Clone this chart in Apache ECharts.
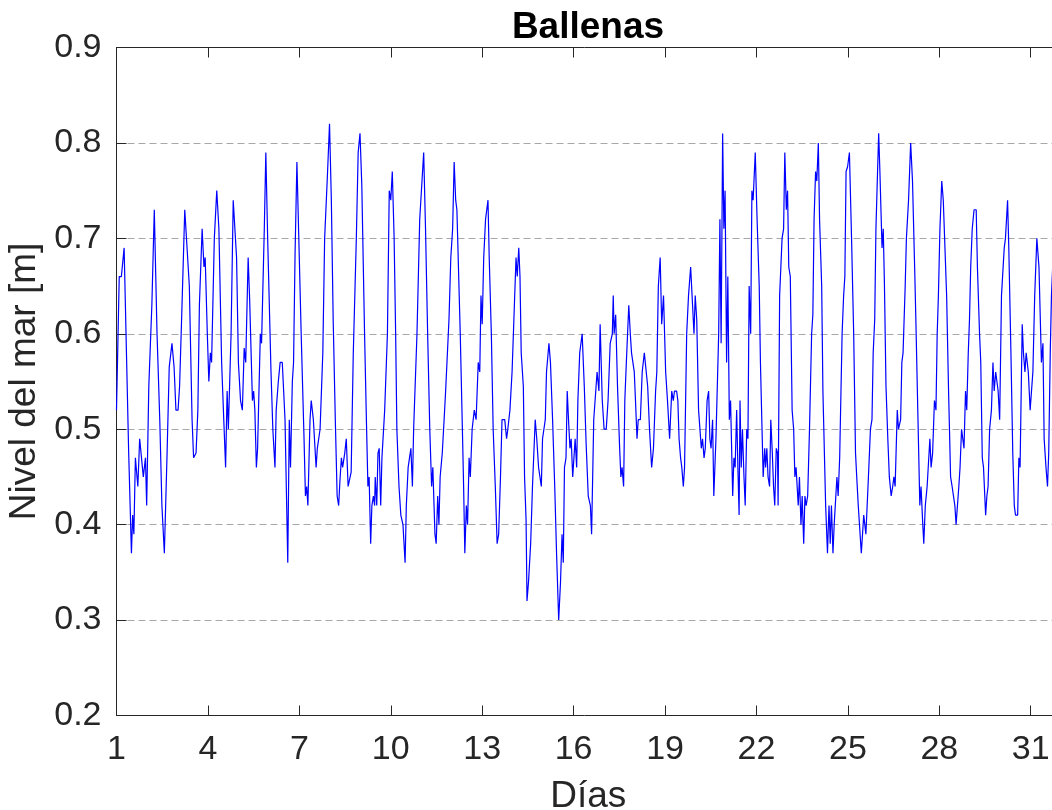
<!DOCTYPE html>
<html><head><meta charset="utf-8">
<script src="https://cdn.jsdelivr.net/npm/echarts@6/dist/echarts.min.js"></script>
<style>html,body{margin:0;padding:0;background:#fff;overflow:hidden}#c{width:1052px;height:810px}</style>
</head><body><div id="c"></div>
<script>
const titleText = 'Ballenas';
const xName = 'Días';
const yName = 'Nivel del mar [m]';
const xTicks = [1, 4, 7, 10, 13, 16, 19, 22, 25, 28, 31];
const yTicks = [0.2, 0.3, 0.4, 0.5, 0.6, 0.7, 0.8, 0.9];

const days = [
1.00,1.09,1.16,1.25,1.40,1.49,1.53,1.57,1.62,1.70,1.76,1.81,1.88,1.95,1.99,2.06,2.16,2.24,2.33,2.42,2.49,2.57,2.66,2.73,2.82,2.89,2.95,3.02,3.07,3.15,3.24,3.30,3.39,3.48,3.53,3.61,3.67,3.72,3.81,3.87,3.91,3.98,4.03,
4.08,4.12,4.21,4.29,4.36,4.45,4.52,4.58,4.63,4.67,4.76,4.83,4.94,5.00,5.07,5.13,5.19,5.24,5.32,5.37,5.46,5.50,5.54,5.59,5.63,5.68,5.72,5.76,5.85,5.90,5.96,6.00,6.07,6.13,6.18,6.20,6.24,6.31,6.37,6.44,6.53,6.62,6.67,6.71,6.77,6.81,6.86,6.92,
7.06,7.15,7.20,7.24,7.28,7.35,7.39,7.46,7.55,7.59,7.63,7.68,7.72,7.77,7.83,7.92,7.99,8.05,8.11,8.18,8.24,8.29,8.33,8.38,8.42,8.49,8.54,8.60,8.65,8.70,8.77,8.87,8.93,8.99,9.05,9.14,9.20,9.25,9.29,9.34,9.38,9.43,9.47,9.49,9.54,9.58,9.62,9.67,9.71,9.75,9.80,9.84,9.89,9.95,10.00,10.05,10.11,
10.16,10.20,10.27,10.33,10.40,10.47,10.51,10.57,10.62,10.66,10.71,10.75,10.79,10.86,10.95,11.08,11.14,11.21,11.28,11.34,11.38,11.45,11.49,11.54,11.58,11.62,11.69,11.75,11.80,11.84,11.91,11.97,12.03,12.08,12.13,12.17,12.23,12.28,12.35,12.39,12.43,12.48,12.52,12.57,12.61,12.67,12.74,12.80,12.87,12.92,12.96,13.00,13.05,13.11,13.19,
13.23,13.30,13.36,13.43,13.49,13.54,13.60,13.65,13.74,13.80,13.84,13.91,13.98,14.04,14.11,14.15,14.20,14.24,14.28,14.35,14.39,14.44,14.47,14.52,14.59,14.65,14.74,14.79,14.85,14.89,14.94,14.98,15.03,15.07,15.11,15.19,15.24,15.31,15.38,15.44,15.51,15.57,15.62,15.66,15.70,15.75,15.79,15.84,15.88,15.92,15.97,16.01,16.05,16.10,16.14,
16.20,16.28,16.35,16.41,16.48,16.55,16.59,16.66,16.71,16.77,16.83,16.87,16.94,17.00,17.07,17.13,17.20,17.27,17.30,17.33,17.38,17.44,17.51,17.55,17.59,17.64,17.68,17.73,17.77,17.81,17.86,17.90,17.95,17.99,18.03,18.08,18.12,18.19,18.25,18.32,18.38,18.43,18.49,18.56,18.62,18.69,18.73,18.78,18.84,18.89,18.95,19.02,19.08,19.15,
19.22,19.27,19.31,19.38,19.42,19.46,19.51,19.55,19.60,19.64,19.71,19.77,19.84,19.88,19.95,19.99,20.04,20.10,20.14,20.19,20.23,20.28,20.32,20.38,20.43,20.47,20.51,20.56,20.60,20.67,20.76,20.80,20.84,20.89,20.93,20.97,21.02,21.06,21.11,21.15,21.22,21.26,21.30,21.35,21.39,21.43,21.46,21.50,21.54,21.59,21.63,21.68,21.72,21.76,21.81,21.85,21.89,21.96,22.02,22.09,22.13,22.18,22.22,22.27,
22.30,22.34,22.38,22.43,22.47,22.52,22.56,22.60,22.65,22.69,22.71,22.76,22.80,22.84,22.89,22.93,22.98,23.02,23.06,23.11,23.17,23.22,23.26,23.30,23.37,23.41,23.46,23.50,23.55,23.59,23.63,23.68,23.74,23.81,23.85,23.89,23.94,23.98,24.03,24.07,24.14,24.18,24.22,24.27,24.33,24.38,24.42,24.46,24.51,24.55,24.60,24.64,24.68,24.73,24.77,24.81,24.86,24.90,24.94,24.99,25.05,25.12,25.19,25.25,25.29,25.34,
25.39,25.44,25.48,25.52,25.57,25.59,25.66,25.70,25.74,25.79,25.83,25.88,25.92,25.96,26.01,26.05,26.12,26.16,26.20,26.25,26.31,26.36,26.42,26.47,26.51,26.55,26.62,26.66,26.73,26.77,26.81,26.88,26.92,26.99,27.06,27.12,27.19,27.23,27.30,27.36,27.40,27.45,27.49,27.54,27.60,27.65,27.69,27.73,27.78,27.84,27.89,27.93,27.97,28.02,28.08,28.13,28.19,28.24,28.30,28.37,
28.42,28.46,28.51,28.55,28.60,28.64,28.68,28.73,28.77,28.81,28.86,28.90,28.95,28.99,29.03,29.08,29.14,29.21,29.25,29.32,29.36,29.41,29.45,29.52,29.56,29.60,29.65,29.71,29.76,29.80,29.85,29.89,29.93,29.98,30.04,30.08,30.13,30.17,30.24,30.28,30.35,30.41,30.46,30.50,30.57,30.61,30.65,30.72,30.76,30.81,30.85,30.92,30.98,31.03,31.07,31.13,31.20,31.27,31.31,31.35,31.40,31.44,31.50,31.55,31.59,31.64,31.68,31.72
];

const level = [
0.52,0.66,0.66,0.69,0.475,0.37,0.41,0.39,0.47,0.44,0.49,0.49,0.45,0.47,0.42,0.545,0.63,0.73,0.60,0.51,0.42,0.37,0.475,0.565,0.59,0.565,0.52,0.52,0.545,0.63,0.73,0.73,0.65,0.51,0.47,0.475,0.52,0.63,0.71,0.67,0.68,0.60,0.55,
0.58,0.57,0.70,0.75,0.71,0.57,0.51,0.46,0.54,0.50,0.60,0.74,0.68,0.57,0.53,0.52,0.585,0.57,0.68,0.635,0.53,0.54,0.52,0.46,0.48,0.48,0.60,0.59,0.71,0.79,0.70,0.70,0.56,0.50,0.50,0.46,0.52,0.55,0.57,0.57,0.51,0.36,0.51,0.46,0.55,0.57,0.685,0.78,
0.60,0.495,0.43,0.44,0.42,0.51,0.53,0.51,0.46,0.48,0.48,0.50,0.50,0.58,0.70,0.765,0.82,0.74,0.615,0.51,0.43,0.42,0.445,0.47,0.46,0.475,0.49,0.44,0.44,0.455,0.58,0.70,0.79,0.81,0.755,0.60,0.51,0.44,0.45,0.38,0.42,0.43,0.42,0.45,0.42,0.475,0.48,0.42,0.47,0.47,0.52,0.52,0.60,0.75,0.74,0.77,0.70,
0.60,0.50,0.44,0.41,0.40,0.36,0.42,0.46,0.46,0.48,0.44,0.50,0.50,0.60,0.72,0.79,0.71,0.60,0.50,0.44,0.46,0.39,0.38,0.43,0.40,0.45,0.475,0.51,0.54,0.54,0.615,0.68,0.71,0.78,0.74,0.73,0.73,0.60,0.50,0.44,0.37,0.42,0.40,0.47,0.45,0.50,0.52,0.51,0.57,0.56,0.64,0.61,0.68,0.72,0.74,
0.68,0.60,0.50,0.44,0.38,0.39,0.45,0.51,0.51,0.49,0.50,0.52,0.56,0.615,0.68,0.66,0.69,0.66,0.58,0.545,0.45,0.405,0.32,0.34,0.38,0.44,0.51,0.49,0.46,0.46,0.44,0.49,0.49,0.51,0.56,0.59,0.57,0.51,0.44,0.37,0.30,0.34,0.39,0.36,0.46,0.47,0.54,0.505,0.48,0.49,0.45,0.45,0.49,0.46,0.53,
0.58,0.60,0.545,0.485,0.43,0.42,0.39,0.51,0.51,0.56,0.54,0.61,0.53,0.50,0.50,0.53,0.59,0.60,0.64,0.60,0.62,0.545,0.48,0.45,0.46,0.44,0.53,0.57,0.57,0.63,0.60,0.58,0.58,0.56,0.53,0.49,0.51,0.51,0.56,0.58,0.58,0.545,0.50,0.46,0.48,0.54,0.56,0.65,0.68,0.61,0.64,0.56,0.53,0.49,
0.54,0.53,0.54,0.54,0.53,0.49,0.47,0.46,0.44,0.46,0.60,0.64,0.67,0.67,0.60,0.64,0.615,0.52,0.52,0.48,0.49,0.47,0.48,0.53,0.54,0.49,0.48,0.51,0.43,0.49,0.60,0.72,0.59,0.81,0.71,0.75,0.57,0.66,0.51,0.53,0.43,0.47,0.46,0.52,0.46,0.41,0.53,0.46,0.50,0.45,0.42,0.50,0.49,0.65,0.60,0.75,0.74,0.79,0.72,0.65,0.57,0.57,0.45,0.48,
0.46,0.48,0.45,0.44,0.51,0.475,0.44,0.42,0.48,0.475,0.42,0.64,0.64,0.70,0.71,0.79,0.73,0.75,0.67,0.66,0.52,0.50,0.45,0.46,0.42,0.45,0.40,0.43,0.38,0.43,0.42,0.43,0.50,0.60,0.62,0.72,0.77,0.76,0.80,0.72,0.65,0.54,0.54,0.42,0.37,0.42,0.38,0.42,0.37,0.40,0.40,0.45,0.43,0.47,0.47,0.60,0.64,0.66,0.77,0.775,0.79,0.70,0.60,0.475,0.45,0.42,
0.42,0.37,0.39,0.41,0.41,0.39,0.44,0.44,0.50,0.51,0.58,0.615,0.71,0.755,0.81,0.77,0.69,0.71,0.65,0.545,0.49,0.45,0.43,0.44,0.45,0.44,0.52,0.50,0.51,0.57,0.58,0.65,0.70,0.74,0.80,0.76,0.67,0.615,0.51,0.42,0.44,0.405,0.38,0.42,0.44,0.44,0.49,0.46,0.475,0.53,0.52,0.60,0.64,0.71,0.76,0.74,0.74,0.64,0.545,0.45,
0.44,0.44,0.42,0.40,0.40,0.44,0.46,0.50,0.50,0.48,0.54,0.52,0.58,0.615,0.67,0.71,0.73,0.73,0.67,0.60,0.57,0.47,0.46,0.41,0.43,0.44,0.50,0.52,0.57,0.54,0.56,0.56,0.54,0.51,0.64,0.64,0.69,0.70,0.74,0.69,0.58,0.475,0.42,0.41,0.41,0.47,0.46,0.61,0.58,0.56,0.58,0.56,0.52,0.52,0.56,0.64,0.70,0.67,0.67,0.57,0.59,0.49,0.46,0.44,0.475,0.58,0.64,0.67
];

const FONT = 'Liberation Sans, Arial, Helvetica, sans-serif';
const AX = '#262626';
const X_MIN = 1, X_MAX = 31.96;
const chart = echarts.init(document.getElementById('c'), null, {renderer: 'canvas'});
const series = days.map((d, i) => [d, level[i]]);

chart.setOption({
  animation: false,
  backgroundColor: '#ffffff',
  grid: {left: 116.5, top: 47.5, right: -8, bottom: 94.5, containLabel: false, outerBoundsMode: 'none'},
  graphic: [{
    type: 'text', x: 588, y: 28, z: 10,
    style: {text: titleText, fill: '#000', fontSize: 37, fontWeight: 'bold', fontFamily: FONT, align: 'center', verticalAlign: 'middle', textAlign: 'center', textVerticalAlign: 'middle'}
  }],
  xAxis: [{
    type: 'value', min: X_MIN, max: X_MAX, position: 'bottom',
    axisLine: {show: true, lineStyle: {color: AX, width: 1}},
    axisTick: {show: true, inside: true, length: 10, customValues: xTicks, lineStyle: {color: AX, width: 1}},
    axisLabel: {show: true, customValues: xTicks, fontSize: 34, color: AX, fontFamily: FONT, margin: 17},
    splitLine: {show: false},
    name: xName, nameLocation: 'middle', nameGap: 63,
    nameTextStyle: {fontSize: 37, color: AX, fontFamily: FONT}
  }, {
    type: 'value', min: X_MIN, max: X_MAX, position: 'top',
    axisLine: {show: true, lineStyle: {color: AX, width: 1}},
    axisTick: {show: true, inside: true, length: 10, customValues: xTicks, lineStyle: {color: AX, width: 1}},
    axisLabel: {show: false},
    splitLine: {show: false}
  }],
  yAxis: [{
    type: 'value', min: 0.2, max: 0.9, interval: 0.1,
    axisLine: {show: true, lineStyle: {color: AX, width: 1}},
    axisTick: {show: true, inside: true, length: 10, lineStyle: {color: AX, width: 1}},
    axisLabel: {show: true, fontSize: 34, color: AX, fontFamily: FONT, margin: 15, formatter: v => v.toFixed(1)},
    splitLine: {show: true, showMinLine: false, showMaxLine: false, lineStyle: {color: '#a8a8a8', width: 1, type: [7, 4]}},
    name: yName, nameLocation: 'middle', nameGap: 63, nameRotate: 90,
    nameTextStyle: {fontSize: 37, color: AX, fontFamily: FONT}
  }],
  series: [{
    type: 'line', data: series, showSymbol: false, symbol: 'none', clip: true,
    lineStyle: {color: '#0000ff', width: 1.2}, z: 3
  }]
});
</script></body></html>
